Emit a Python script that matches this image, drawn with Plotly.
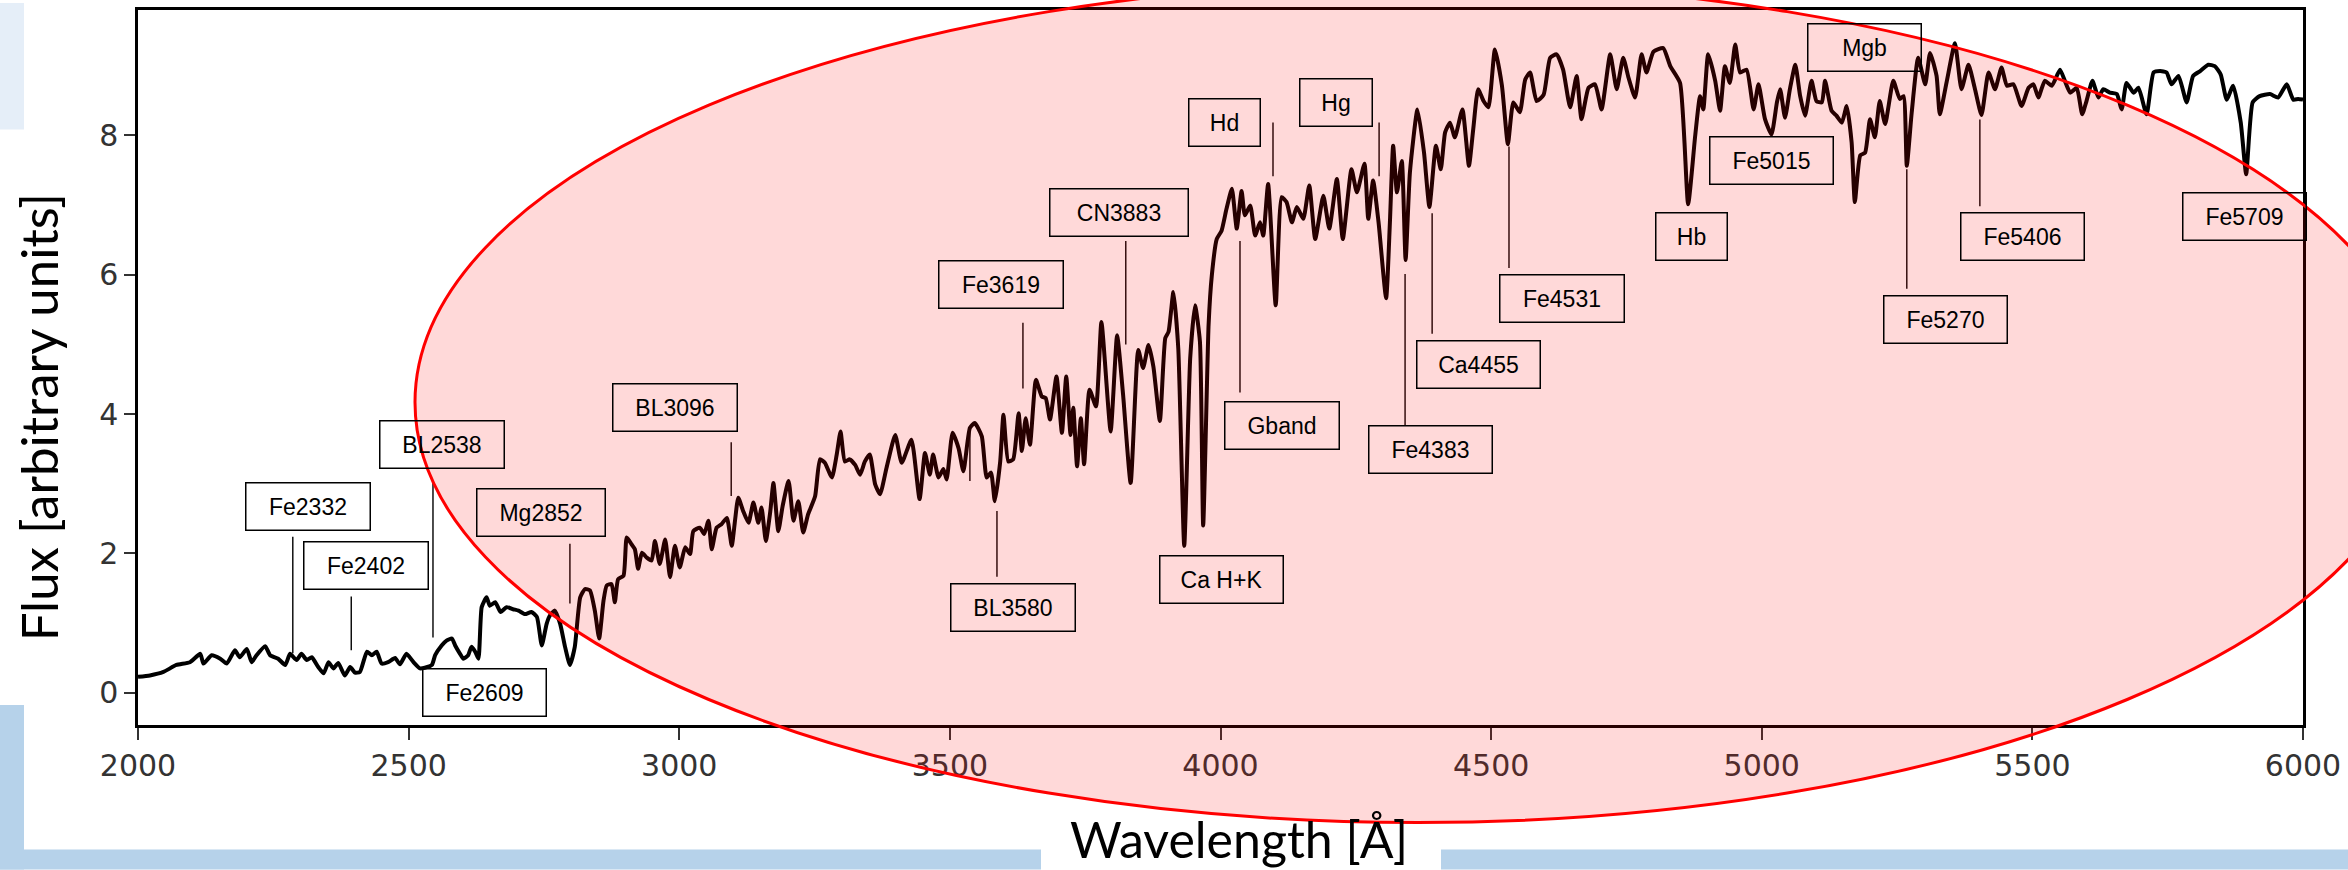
import plotly.graph_objects as go

# ---------------- data ----------------
wavelength = [
    2000, 2022, 2047, 2071, 2096, 2115, 2121, 2136, 2152, 2164, 2179, 2188, 2201, 2210, 2219, 2235,
    2244, 2259, 2272, 2281, 2293, 2302, 2312, 2321, 2333, 2343, 2352, 2361, 2370, 2382, 2392, 2401,
    2410, 2423, 2432, 2441, 2450, 2462, 2475, 2484, 2496, 2509, 2521, 2530, 2543, 2549, 2561, 2570,
    2580, 2586, 2595, 2601, 2610, 2616, 2623, 2629, 2635, 2644, 2650, 2660, 2670, 2681, 2693, 2703,
    2715, 2727, 2737, 2746, 2755, 2761, 2770, 2780, 2789, 2798, 2807, 2817, 2826, 2835, 2844, 2852,
    2860, 2866, 2875, 2881, 2887, 2897, 2903, 2912, 2918, 2924, 2931, 2940, 2949, 2955, 2964, 2974,
    2983, 2992, 3001, 3011, 3020, 3026, 3038, 3046, 3054, 3060, 3069, 3078, 3088, 3097, 3103, 3109,
    3118, 3128, 3137, 3146, 3152, 3160, 3168, 3174, 3183, 3191, 3202, 3211, 3220, 3229, 3238, 3251,
    3260, 3269, 3282, 3291, 3298, 3306, 3315, 3325, 3334, 3343, 3352, 3362, 3371, 3383, 3399, 3411,
    3429, 3444, 3454, 3463, 3469, 3479, 3488, 3494, 3505, 3516, 3525, 3537, 3546, 3559, 3568, 3576,
    3583, 3593, 3599, 3608, 3617, 3627, 3633, 3640, 3648, 3659, 3670, 3677, 3685, 3697, 3707, 3715,
    3723, 3728, 3735, 3742, 3748, 3758, 3770, 3780, 3797, 3809, 3820, 3834, 3848, 3857, 3867, 3876,
    3888, 3898, 3904, 3913, 3922, 3933, 3944, 3953, 3962, 3968, 3978, 3984, 3993, 4002, 4011, 4021,
    4030, 4039, 4045, 4055, 4064, 4073, 4079, 4088, 4102, 4113, 4122, 4132, 4141, 4153, 4164, 4175,
    4190, 4201, 4215, 4226, 4242, 4252, 4266, 4273, 4282, 4292, 4306, 4313, 4319, 4326, 4335, 4342,
    4350, 4364, 4376, 4386, 4398, 4407, 4415, 4424, 4433, 4447, 4459, 4467, 4476, 4486, 4495, 4507,
    4520, 4531, 4541, 4553, 4563, 4572, 4584, 4597, 4609, 4621, 4633, 4646, 4658, 4667, 4680, 4692,
    4704, 4720, 4732, 4744, 4754, 4766, 4778, 4787, 4800, 4818, 4831, 4849, 4864, 4877, 4886, 4892,
    4901, 4914, 4923, 4932, 4941, 4951, 4960, 4972, 4985, 4994, 5006, 5018, 5028, 5034, 5043, 5052,
    5062, 5071, 5080, 5092, 5101, 5111, 5117, 5129, 5138, 5148, 5157, 5166, 5172, 5182, 5191, 5200,
    5209, 5218, 5228, 5243, 5255, 5262, 5268, 5277, 5289, 5302, 5311, 5323, 5329, 5342, 5357, 5369,
    5382, 5394, 5406, 5419, 5431, 5443, 5453, 5465, 5480, 5493, 5502, 5511, 5523, 5536, 5551, 5560,
    5570, 5582, 5592, 5600, 5611, 5622, 5631, 5643, 5656, 5665, 5674, 5687, 5696, 5711, 5724, 5736,
    5748, 5757, 5770, 5785, 5797, 5810, 5825, 5837, 5848, 5859, 5871, 5885, 5895, 5907, 5920, 5939,
    5954, 5970, 5982, 5991, 6000,
]
flux = [
    0.23, 0.25, 0.30, 0.40, 0.44, 0.56, 0.42, 0.54, 0.49, 0.42, 0.61, 0.51, 0.63, 0.44, 0.54, 0.67,
    0.54, 0.49, 0.40, 0.56, 0.47, 0.56, 0.47, 0.51, 0.37, 0.28, 0.44, 0.35, 0.43, 0.25, 0.37, 0.29,
    0.30, 0.59, 0.54, 0.59, 0.42, 0.44, 0.50, 0.41, 0.56, 0.44, 0.35, 0.36, 0.40, 0.54, 0.68, 0.75,
    0.78, 0.68, 0.56, 0.49, 0.54, 0.66, 0.59, 0.49, 1.23, 1.37, 1.25, 1.30, 1.16, 1.23, 1.20, 1.18,
    1.13, 1.16, 1.09, 0.68, 0.99, 1.11, 1.18, 0.99, 0.66, 0.40, 0.66, 1.37, 1.49, 1.47, 1.18, 0.78,
    1.32, 1.54, 1.56, 1.30, 1.63, 1.68, 2.23, 2.13, 2.06, 1.78, 2.01, 1.94, 1.90, 2.18, 1.85, 2.20,
    1.66, 2.11, 1.80, 2.09, 1.99, 2.32, 2.37, 2.28, 2.47, 2.06, 2.37, 2.42, 2.51, 2.11, 2.47, 2.80,
    2.61, 2.44, 2.73, 2.44, 2.66, 2.18, 2.59, 3.01, 2.32, 2.68, 3.04, 2.47, 2.75, 2.30, 2.56, 2.82,
    3.35, 3.30, 3.09, 3.42, 3.75, 3.32, 3.35, 3.27, 3.13, 3.32, 3.42, 2.99, 2.85, 3.23, 3.70, 3.30,
    3.63, 2.78, 3.44, 3.13, 3.42, 3.09, 3.21, 3.06, 3.73, 3.51, 3.18, 3.80, 3.87, 3.68, 3.09, 3.16,
    2.75, 3.32, 3.99, 3.32, 3.35, 4.01, 3.47, 3.94, 3.56, 4.49, 4.25, 4.23, 3.92, 4.54, 3.73, 4.54,
    3.70, 4.09, 3.25, 3.94, 3.28, 4.35, 4.11, 5.32, 3.75, 5.13, 4.28, 3.01, 4.92, 4.66, 4.99, 4.68,
    3.90, 5.09, 5.18, 5.75, 4.94, 2.11, 4.80, 5.56, 5.04, 2.40, 5.28, 5.99, 6.51, 6.63, 6.94, 7.23,
    6.66, 7.20, 6.85, 6.99, 6.56, 6.75, 6.56, 7.30, 5.56, 7.11, 7.04, 6.75, 6.97, 6.80, 7.28, 6.51,
    7.13, 6.66, 7.37, 6.51, 7.51, 7.18, 7.59, 6.80, 7.35, 6.75, 5.66, 6.75, 7.85, 7.18, 7.63, 6.21,
    7.47, 8.37, 7.75, 6.97, 7.85, 7.51, 8.04, 8.18, 7.97, 8.37, 7.56, 8.09, 8.66, 8.49, 8.40, 9.23,
    8.71, 7.87, 8.47, 8.33, 8.80, 8.90, 8.49, 8.58, 9.11, 9.16, 8.94, 8.40, 8.85, 8.23, 8.68, 8.73,
    8.37, 9.16, 8.66, 9.11, 8.82, 8.54, 9.16, 8.90, 9.20, 9.25, 8.99, 8.75, 7.01, 7.99, 8.56, 8.37,
    9.16, 8.78, 8.35, 8.99, 8.75, 9.30, 8.90, 8.94, 8.37, 8.73, 8.23, 8.01, 8.47, 8.66, 8.25, 8.66,
    9.01, 8.56, 8.28, 8.78, 8.49, 8.47, 8.78, 8.35, 8.28, 8.18, 8.42, 7.90, 7.04, 7.71, 7.75, 8.23,
    7.97, 8.49, 8.16, 8.78, 8.52, 8.56, 7.56, 8.32, 9.11, 8.73, 9.18, 8.85, 8.30, 8.78, 9.32, 8.66,
    9.01, 8.66, 8.29, 8.90, 8.66, 8.97, 8.71, 8.73, 8.42, 8.68, 8.73, 8.54, 8.78, 8.71, 8.94, 8.78,
    8.61, 8.68, 8.30, 8.49, 8.78, 8.54, 8.66, 8.61, 8.59, 8.37, 8.75, 8.61, 8.68, 8.30, 8.90, 8.92,
    8.90, 8.73, 8.85, 8.47, 8.85, 8.92, 9.01, 8.99, 8.87, 8.51, 8.71, 8.18, 7.44, 8.47, 8.56, 8.59,
    8.54, 8.73, 8.51, 8.52, 8.51,
]

# index labels (text)
feature_labels = ["Fe2332", "Fe2402", "BL2538", "Fe2609", "Mg2852", "BL3096", "BL3580", "Fe3619",
                  "CN3883", "Ca H+K", "Gband", "Hd", "Hg", "Fe4383", "Ca4455", "Fe4531", "Hb",
                  "Fe5015", "Mgb", "Fe5270", "Fe5406", "Fe5709"]
# wavelengths where the leader lines are drawn
marker_wavelengths = [2286, 2394, 2545, 2798, 3096, 3537, 3587, 3635, 3825, 4036, 4097, 4293,
                      4341, 4391, 4533, 5268, 5403]

# ---------------- layout placement (not data) ----------------
# label box centre (wavelength, flux) and box width in px
label_place = {
    "Fe2332": (2314, 2.674, 126), "Fe2402": (2421, 1.824, 126), "BL2538": (2562, 3.56, 126),
    "Fe2609": (2640, 0.003, 125), "Mg2852": (2745, 2.589, 130), "BL3096": (2992, 4.089, 126),
    "BL3580": (3617, 1.231, 126), "Fe3619": (3595, 5.86, 126), "CN3883": (3812, 6.896, 140),
    "Ca H+K": (4001, 1.631, 125), "Gband": (4114, 3.83, 116), "Hd": (4007, 8.18, 73),
    "Hg": (4213, 8.467, 74), "Fe4383": (4388, 3.489, 125), "Ca4455": (4477, 4.717, 125),
    "Fe4531": (4631, 5.66, 126), "Hb": (4870, 6.553, 73), "Fe5015": (5018, 7.631, 125),
    "Mgb": (5190, 9.253, 115), "Fe5270": (5339, 5.36, 125), "Fe5406": (5482, 6.553, 125),
    "Fe5709": (5892, 6.839, 125),
}
# leader line vertical extent (flux top, flux bottom), same order as marker_wavelengths
leader_extent = [(2.239, 0.567), (1.381, 0.610), (3.039, 0.796), (2.139, 1.281), (3.596, 2.824),
                 (3.796, 3.039), (2.610, 1.667), (5.310, 4.367), (6.481, 4.996), (6.481, 4.310),
                 (8.181, 7.410), (8.181, 7.410), (6.010, 3.839), (6.881, 5.153), (7.839, 6.096),
                 (7.510, 5.796), (8.224, 6.981)]

W, H = 2348, 870
L, R, T, B = 138, 2303, 7, 725


def px(X):
    return (X - L) / (R - L)


def py(Y):
    return (B - Y) / (B - T)


fig = go.Figure()

fig.add_trace(go.Scatter(x=wavelength, y=flux, mode="lines",
                         line=dict(color="black", width=4, shape="spline", smoothing=0.5),
                         hoverinfo="skip"))

lx, ly = [], []
for lam, (ft, fb) in zip(marker_wavelengths, leader_extent):
    lx += [lam, lam, None]
    ly += [ft, fb, None]
fig.add_trace(go.Scatter(x=lx, y=ly, mode="lines", line=dict(color="black", width=1.4),
                         hoverinfo="skip"))

annotations = []
for name in feature_labels:
    bx, by, bw = label_place[name]
    annotations.append(dict(
        x=bx, y=by, xref="x", yref="y", text=name, showarrow=False,
        xanchor="center", yanchor="middle", width=bw - 3, height=46, align="center",
        bordercolor="black", borderwidth=1.5, borderpad=0, bgcolor="rgba(0,0,0,0)",
        font=dict(family="Liberation Sans, Arial", size=23, color="black"),
    ))

annotations.append(dict(
    x=px(38), y=py(416), xref="paper", yref="paper", text="Flux [arbitrary units]",
    showarrow=False, textangle=-90, xanchor="center", yanchor="middle",
    font=dict(family="Lato", size=51, color="black"),
))
annotations.append(dict(
    x=px(1239), y=py(839), xref="paper", yref="paper", text="Wavelength [Å]",
    showarrow=False, xanchor="center", yanchor="middle",
    font=dict(family="Lato", size=50, color="black"),
))

shapes = [
    dict(type="rect", xref="paper", yref="paper", x0=px(0), x1=px(24), y0=py(0), y1=py(127),
         fillcolor="#e5eef8", line=dict(width=0), layer="below"),
    dict(type="rect", xref="paper", yref="paper", x0=px(0), x1=px(24), y0=py(705), y1=py(870),
         fillcolor="#b6d2ea", line=dict(width=0), layer="below"),
    dict(type="rect", xref="paper", yref="paper", x0=px(0), x1=px(1041), y0=py(850), y1=py(870),
         fillcolor="#b6d2ea", line=dict(width=0), layer="below"),
    dict(type="rect", xref="paper", yref="paper", x0=px(1441), x1=px(2348), y0=py(850), y1=py(870),
         fillcolor="#b6d2ea", line=dict(width=0), layer="below"),
    dict(type="circle", xref="paper", yref="paper",
         x0=px(1418 - 1003), x1=px(1418 + 1003), y0=py(401 + 422), y1=py(401 - 422),
         fillcolor="rgba(255,0,0,0.15)", line=dict(color="red", width=3), layer="above"),
]

fig.update_layout(
    width=W, height=H,
    margin=dict(l=L, r=W - R, t=T, b=H - B, pad=0),
    paper_bgcolor="white", plot_bgcolor="rgba(0,0,0,0)",
    showlegend=False,
    annotations=annotations,
    shapes=shapes,
)
fig.update_xaxes(range=[2000, 6000], tickvals=[2000, 2500, 3000, 3500, 4000, 4500, 5000, 5500, 6000],
                 ticks="outside", ticklen=12, tickwidth=1.5, tickcolor="#333",
                 showline=True, linecolor="black", linewidth=2.5, mirror=True,
                 showgrid=False, zeroline=False,
                 tickfont=dict(family="DejaVu Sans", size=30, color="#333"))
fig.update_yaxes(range=[-0.461, 9.796], tickvals=[0, 2, 4, 6, 8],
                 ticks="outside", ticklen=11, tickwidth=1.5, tickcolor="#333",
                 showline=True, linecolor="black", linewidth=2.5, mirror=True,
                 showgrid=False, zeroline=False,
                 tickfont=dict(family="DejaVu Sans", size=30, color="#333"))

fig.write_html("out.html")
